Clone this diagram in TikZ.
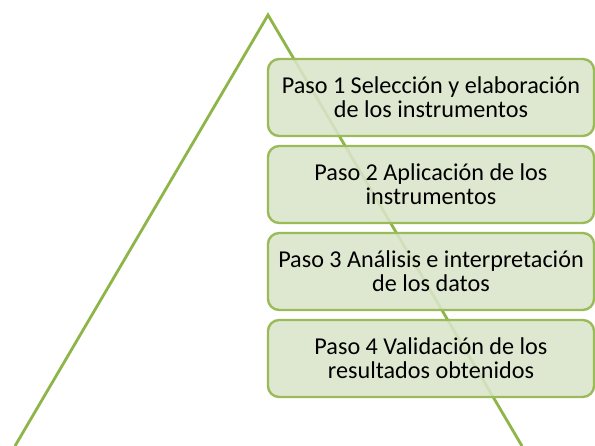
\documentclass[tikz,border=0pt]{standalone}
\usepackage{fontspec}
\setmainfont{Carlito}
\definecolor{linegreen}{RGB}{141,181,72}
\definecolor{boxborder}{RGB}{155,187,89}
\definecolor{boxfill}{RGB}{218,229,202}
\tikzset{
	pasobox/.style={draw=boxborder, line width=1.7pt, fill=boxfill, fill opacity=0.88, text opacity=1,
		rounded corners=8pt, minimum width=8.15cm, minimum height=1.925cm, inner sep=1pt,
		align=center, font=\fontsize{17.2}{17}\selectfont, text=black},
}
\begin{document}
\begin{tikzpicture}[x=0.025cm, y=-0.025cm]
		\useasboundingbox (0,0) rectangle (595,446);
		%triangle
		\coordinate (apex) at (268, 15);
		\coordinate (left) at (15, 446);
		\coordinate (right) at (522, 446);
		\draw[linegreen, line width=2pt, line join=miter] (left) -- (apex) -- (right);
		
		%steps
		\node[pasobox] (paso1) at (431, 97.5){Paso 1 Selección y elaboración\\de los instrumentos};
		\node[pasobox] (paso2) at (431, 184.5){Paso 2 Aplicación de los\\instrumentos};
		\node[pasobox] (paso3) at (431, 271.5){Paso 3 Análisis e interpretación\\de los datos};
		\node[pasobox] (paso4) at (431, 358.5){Paso 4 Validación de los\\resultados obtenidos};
		\end{tikzpicture}
\end{document}
